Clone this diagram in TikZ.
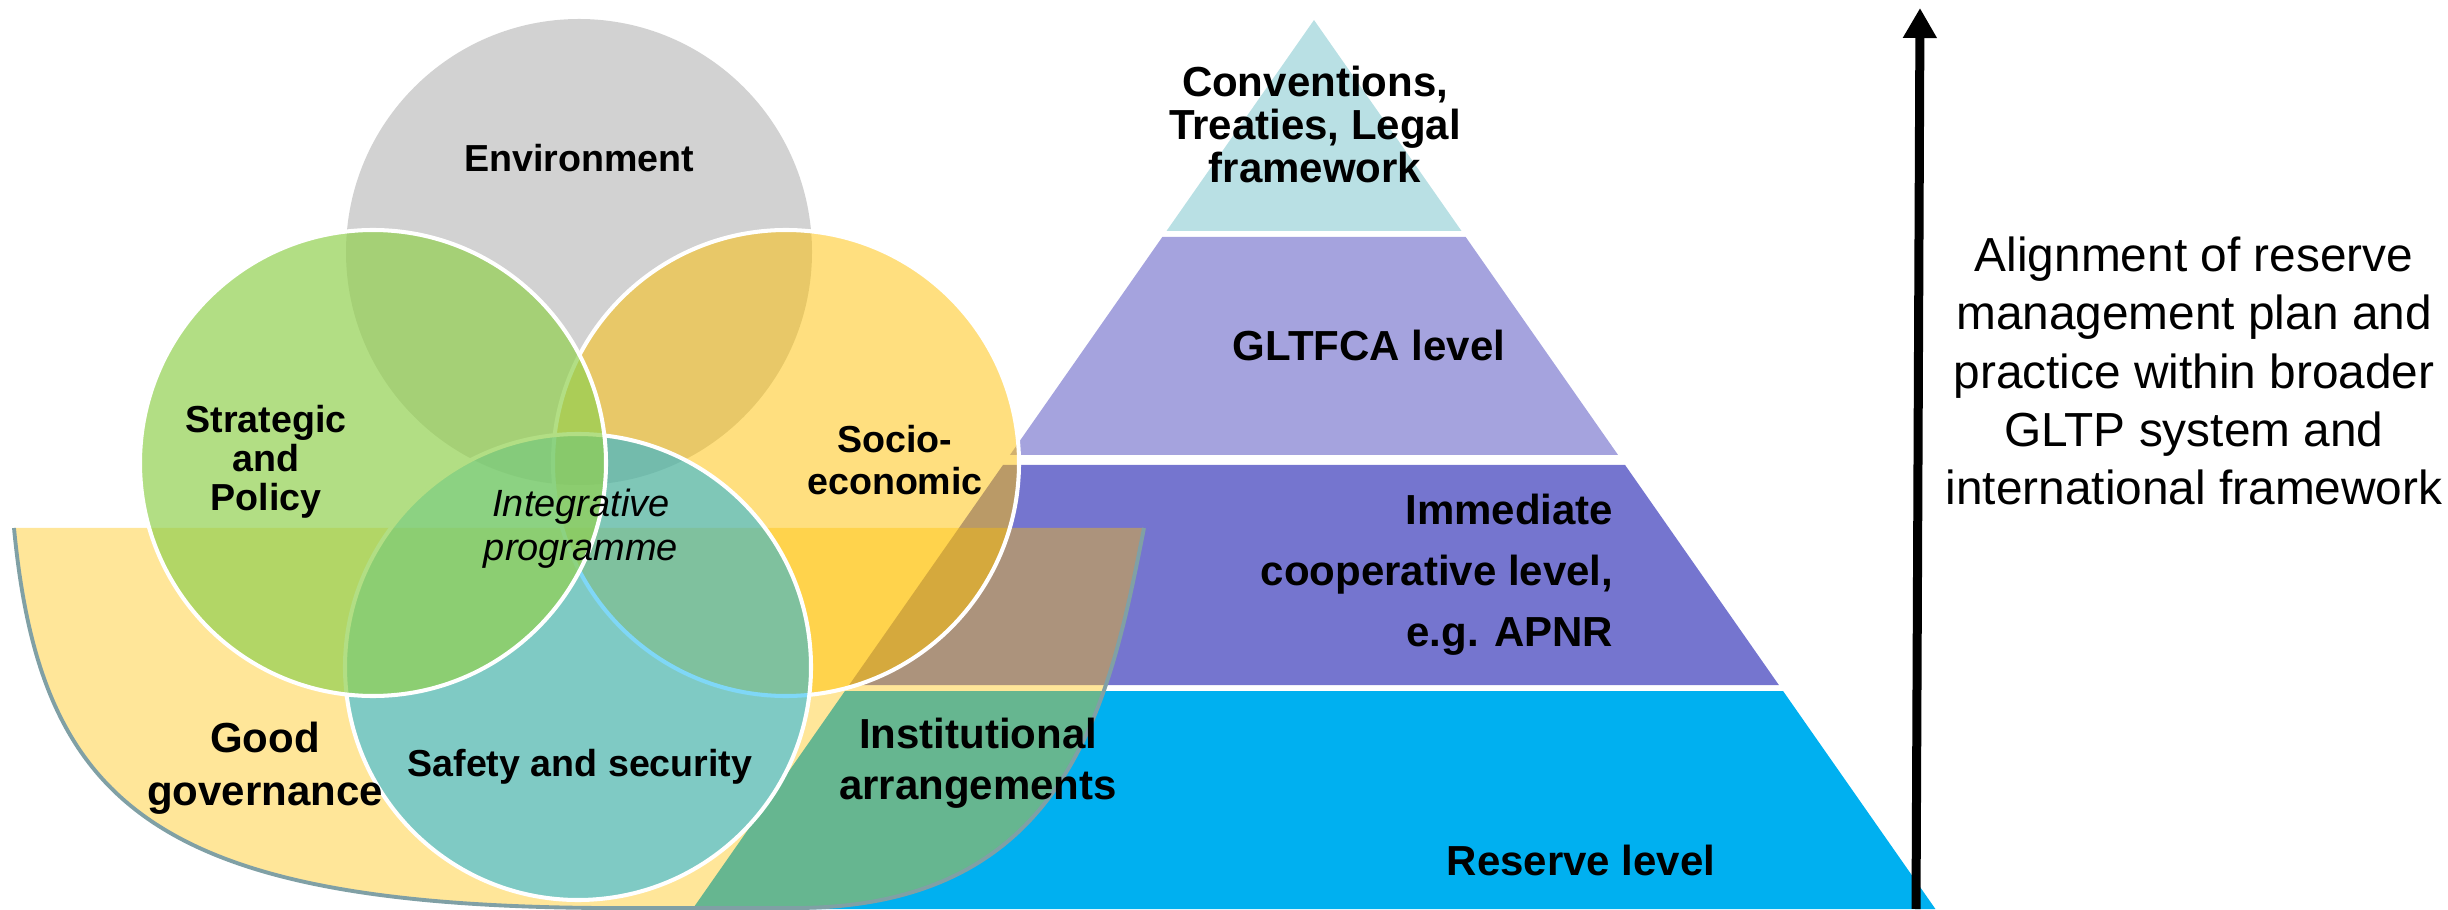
\documentclass[tikz,border=0pt]{standalone}
\usepackage{fontspec}
\setmainfont{Liberation Sans}
\usetikzlibrary{arrows.meta}

\definecolor{envgray}{RGB}{210,210,210}
\definecolor{socgold}{RGB}{255,192,0}
\definecolor{strgreen}{RGB}{146,208,80}
\definecolor{lvltop}{RGB}{185,224,228}
\definecolor{lvlgltf}{RGB}{165,163,222}
\definecolor{lvlcoop}{RGB}{117,117,207}
\definecolor{lvlres}{RGB}{0,176,240}
\definecolor{cupedge}{RGB}{128,160,165}

\begin{document}
\begin{tikzpicture}[
    ring/.style={circle,minimum size=4.66cm,inner sep=0pt,outer sep=0pt,draw=white,line width=1.15pt},
    lbl/.style={inner sep=0pt,align=center,font=\bfseries\fontsize{11.95}{#1}\selectfont},
    lbl/.default=14,
    clbl/.style={inner sep=0pt,align=center,font=\bfseries\fontsize{10.7}{#1}\selectfont},
    clbl/.default=13]
\useasboundingbox (0,0) rectangle (24.48,9.09);

% pyramid levels, apex at (13.14,8.89)
\foreach \dt/\db/\col in {0.20/2.31/lvltop,2.37/4.55/lvlgltf,4.65/6.85/lvlcoop,6.91/9.09/lvlres}
    \fill[\col] ({13.14-0.699*(\dt-0.2)},{9.09-\dt}) -- ({13.14+0.699*(\dt-0.2)},{9.09-\dt})
        -- ({13.14+0.699*(\db-0.2)},{9.09-\db}) -- ({13.14-0.699*(\db-0.2)},{9.09-\db}) -- cycle;

% governance cup
\coordinate (cupL) at (0.14,3.81);
\coordinate (cupR) at (11.44,3.81);
\fill[socgold,fill opacity=0.4] (cupL) .. controls (0.40,1.09) and (1.50,0.04) .. (6.00,0.01)
    -- (8.00,0.01) .. controls (10.70,0.04) and (11.10,2.09) .. (cupR) -- cycle;
\draw[cupedge,line width=1.1pt] (cupL) .. controls (0.40,1.09) and (1.50,0.04) .. (6.00,0.01)
    -- (8.00,0.01) .. controls (10.70,0.04) and (11.10,2.09) .. (cupR);

% the four rings
\node[ring,fill=envgray,draw=none] (env) at (5.79,6.57) {};
\node[ring,fill=socgold,fill opacity=0.5] (socio) at (7.86,4.46) {};
\node[ring,fill=lvlres,fill opacity=0.5] (safety) at (5.78,2.42) {};
\node[ring,fill=strgreen,fill opacity=0.7] (strat) at (3.73,4.46) {};

\node[clbl] (envtxt) at (5.79,7.51) {Environment};
\node[clbl=11.1] (strattxt) at (2.66,4.47) {Strategic\\and\\Policy};
\node[clbl=11.95] (sociotxt) at (8.95,4.49) {Socio-\\economic};
\node[inner sep=0pt,align=center,font=\itshape\fontsize{10.8}{12.5}\selectfont] (integtxt) at (5.81,3.80) {Integrative\\programme};
\node[clbl] (safetytxt) at (5.80,1.42) {Safety and security};
\node[lbl=15.1] (goodtxt) at (2.65,1.405) {Good\\governance};
\node[lbl=14.5] (insttxt) at (9.78,1.455) {Institutional\\arrangements};

\node[lbl=12.2] (convtxt) at (13.15,7.845) {Conventions,\\Treaties, Legal\\framework};
\node[lbl] (gltftxt) at (13.69,5.64) {GLTFCA level};
\node[lbl=17.4,anchor=east,align=right] (cooptxt) at (16.14,3.34) {Immediate\\cooperative level,\\e.g. APNR};
\node[lbl] (restxt) at (15.81,0.49) {Reserve level};

% alignment arrow
\coordinate (arrfoot) at (19.16,0);
\coordinate (arrtip) at (19.20,9.01);
\draw[line width=0.09cm,-{Triangle[width=0.32cm,length=0.30cm]}] (arrfoot) -- (arrtip);
\node[inner sep=0pt,align=center,font=\fontsize{13.6}{16.6}\selectfont] (aligntxt) at (21.94,5.38)
    {Alignment of reserve\\management plan and\\practice within broader\\GLTP system and\\international framework};
\end{tikzpicture}
\end{document}
